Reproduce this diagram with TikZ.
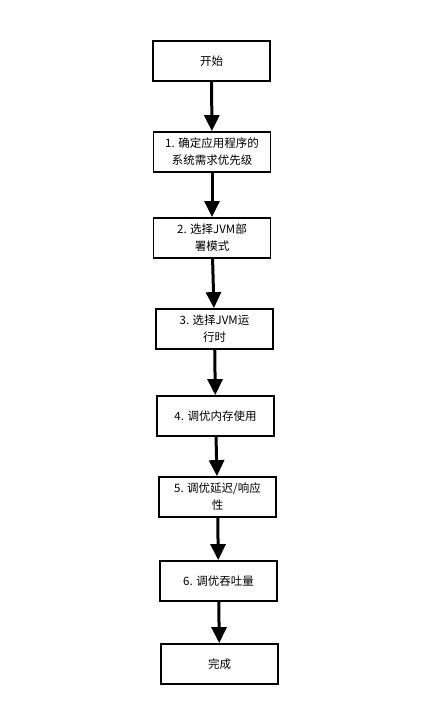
\documentclass[tikz,border=0pt]{standalone}
\usepackage{fontspec}
\setmainfont{Noto Sans CJK SC}
\usetikzlibrary{arrows.meta,positioning}
\tikzset{>={Triangle[width=15pt,length=16pt]},flow node/.style={rectangle,draw,line width=1.8pt,minimum width=117pt,minimum height=40pt,inner sep=1pt,align=center,font=\fontsize{11.5pt}{17pt}\selectfont},edge/.style={line width=3pt}}
\begin{document}
\begin{tikzpicture}[x=1pt,y=-1pt]
    \useasboundingbox (0,0) rectangle (427,703);
    \node[flow node] (v1) at (211.5,61) {开始};
    \node[flow node, on grid] (v2) [below right = 91pt and 0.5pt of v1] {1. 确定应用程序的\\系统需求优先级};
    \node[flow node, on grid] (v3) [below = 86pt of v2] {2. 选择JVM部\\署模式};
    \node[flow node, on grid] (v4) [below right = 91pt and 2.5pt of v3] {3. 选择JVM运\\行时};
    \node[flow node, on grid] (v5) [below right = 87pt and 1pt of v4] {4. 调优内存使用};
    \node[flow node, on grid] (v6) [below right = 81pt and 2pt of v5] {5. 调优延迟/响应\\性};
    \node[flow node, on grid] (v7) [below right = 84pt and 1pt of v6] {6. 调优吞吐量};
    \node[flow node, on grid] (v8) [below right = 83pt and 1pt of v7] {完成};
    \draw[edge,->] (v1) -- (v2);
    \draw[edge,->] (v2) -- (v3);
    \draw[edge,->] (v3) -- (v4);
    \draw[edge,->] (v4) -- (v5);
    \draw[edge,->] (v5) -- (v6);
    \draw[edge,->] (v6) -- (v7);
    \draw[edge,->] (v7) -- (v8);
\end{tikzpicture}
\end{document}
